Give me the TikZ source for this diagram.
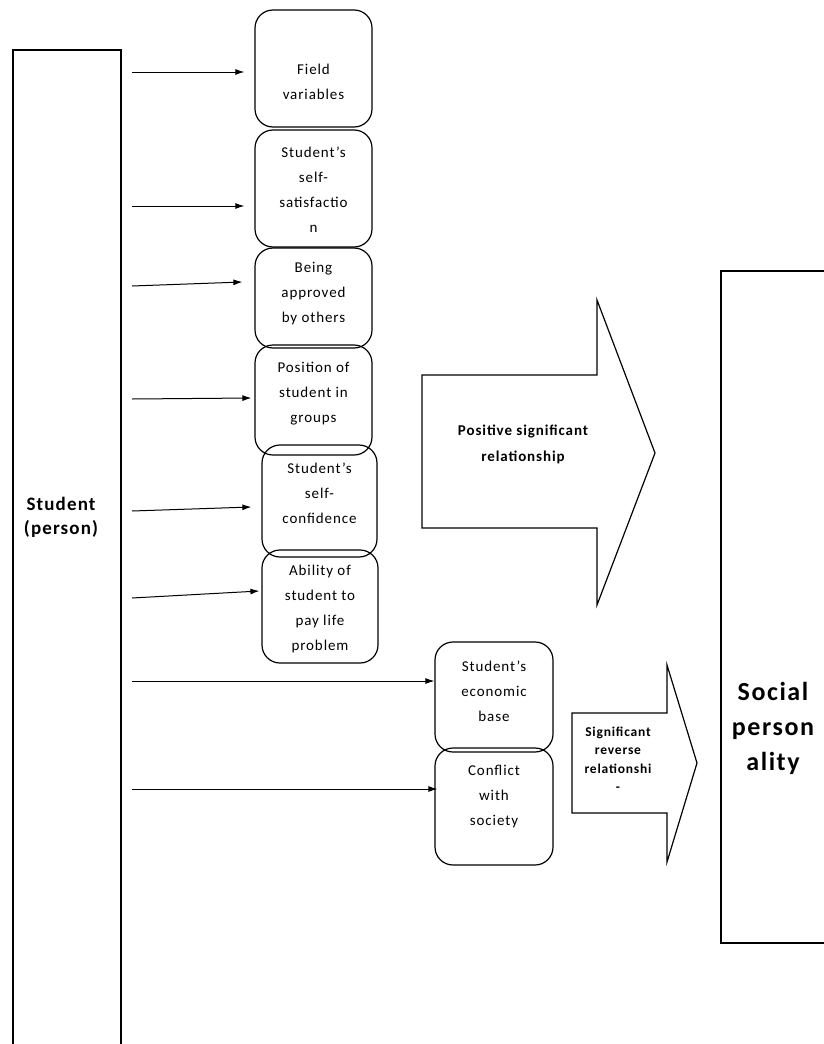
\documentclass[tikz,border=0pt]{standalone}
\usepackage{fontspec}
\setmainfont{Carlito}[LetterSpace=6]
\usepackage{tikz}
\usetikzlibrary{arrows.meta,calc}
\def\boxfont{\fontsize{15}{25}\selectfont}

\begin{document}
\begin{tikzpicture}[>={Latex[length=9pt,width=6pt]},x=1pt,y=-1pt,
  factor/.style={draw,rounded corners=18pt,line width=1.2pt,minimum width=117pt},
  ftext/.style={align=center,font=\boxfont,inner sep=0pt},
  link/.style={->,line width=1pt},
  bigtext/.style={align=center,inner sep=0pt,font=\bfseries#1}]
\useasboundingbox (0,0) rectangle (824,1044);
\draw [line width=1.2pt] (13,1050) -- (13,50) -- (121,50) -- (121,1050);
\node [bigtext=\fontsize{19}{24}\selectfont] (student) at (61,517) {Student\\(person)};
\coordinate (s1) at (132,72);
\coordinate (s2) at (132,206);
\coordinate (s3) at (132,286);
\coordinate (s4) at (132,399);
\coordinate (s5) at (132,511);
\coordinate (s6) at (132,598);
\coordinate (s7) at (132,681);
\coordinate (s8) at (132,789);
\node [factor,minimum height=117pt] (b1) at (313.5,68.5) {};
\node [factor,minimum height=117pt] (b2) at (313.5,188.5) {};
\node [factor,minimum height=100pt] (b3) at (313.5,298) {};
\node [factor,minimum height=110pt] (b4) at (313.5,400) {};
\node [factor,minimum height=112pt,minimum width=115pt] (b5) at (319.5,501) {};
\node [factor,minimum height=113pt,minimum width=116pt] (b6) at (320,606.5) {};
\node [factor,minimum height=110pt,minimum width=118pt] (b7) at (494,697) {};
\node [factor,minimum height=117pt,minimum width=118pt] (b8) at (494,806.5) {};
\node [ftext] (t1) at (313.5,82) {Field\\variables};
\node [ftext] (t2) at (313.5,190) {Student's\\self-\\satisfactio\\n};
\node [ftext] (t3) at (313.5,294) {Being\\approved\\by others};
\node [ftext] (t4) at (313.5,394) {Position of\\student in\\groups};
\node [ftext] (t5) at (319.5,493) {Student's\\self-\\confidence};
\node [ftext] (t6) at (320,609) {Ability of\\student to\\pay life\\problem};
\node [ftext] (t7) at (494,691) {Student's\\economic\\base};
\node [ftext] (t8) at (494,797) {Conflict\\with\\society};
\draw [link] (s1) -- ($(s1 -| b1.west)+(-10,0)$);
\draw [link] (s2) -- ($(s2 -| b2.west)+(-10,0)$);
\draw [link] (s3) -- ($(s3 -| b3.west)+(-12,-4)$);
\draw [link] (s4) -- ($(s4 -| b4.west)+(-3,-1)$);
\draw [link] (s5) -- ($(s5 -| b5.west)+(-10,-4)$);
\draw [link] (s6) -- ($(s6 -| b6.west)+(-2,-7)$);
\draw [link] (s7) -- (s7 -| b7.west);
\draw [link] (s8) -- ($(s8 -| b8.west)+(3,0)$);
\draw [line width=1.2pt] (422,375) -- (597,375) -- (597,300) -- (655,453)
  -- (597,605) -- (597,528) -- (422,528) -- cycle;
\node [bigtext=\fontsize{15}{26}\selectfont] (positive) at (523,444) {Positive significant\\relationship};
\draw [line width=1.2pt] (572,713) -- (667,713) -- (667,665) -- (697,763)
  -- (667,862) -- (667,813) -- (572,813) -- cycle;
\node [bigtext=\fontsize{13.5}{18.5}\selectfont] (reverse) at (618,759) {Significant\\reverse\\relationshi\\-};
\draw [line width=1.2pt] (830,271) -- (721,271) -- (721,943) -- (830,943);
\node [bigtext=\fontsize{26}{35}\selectfont] (social) at (773,728) {Social\\person\\ality};
\end{tikzpicture}
\end{document}
